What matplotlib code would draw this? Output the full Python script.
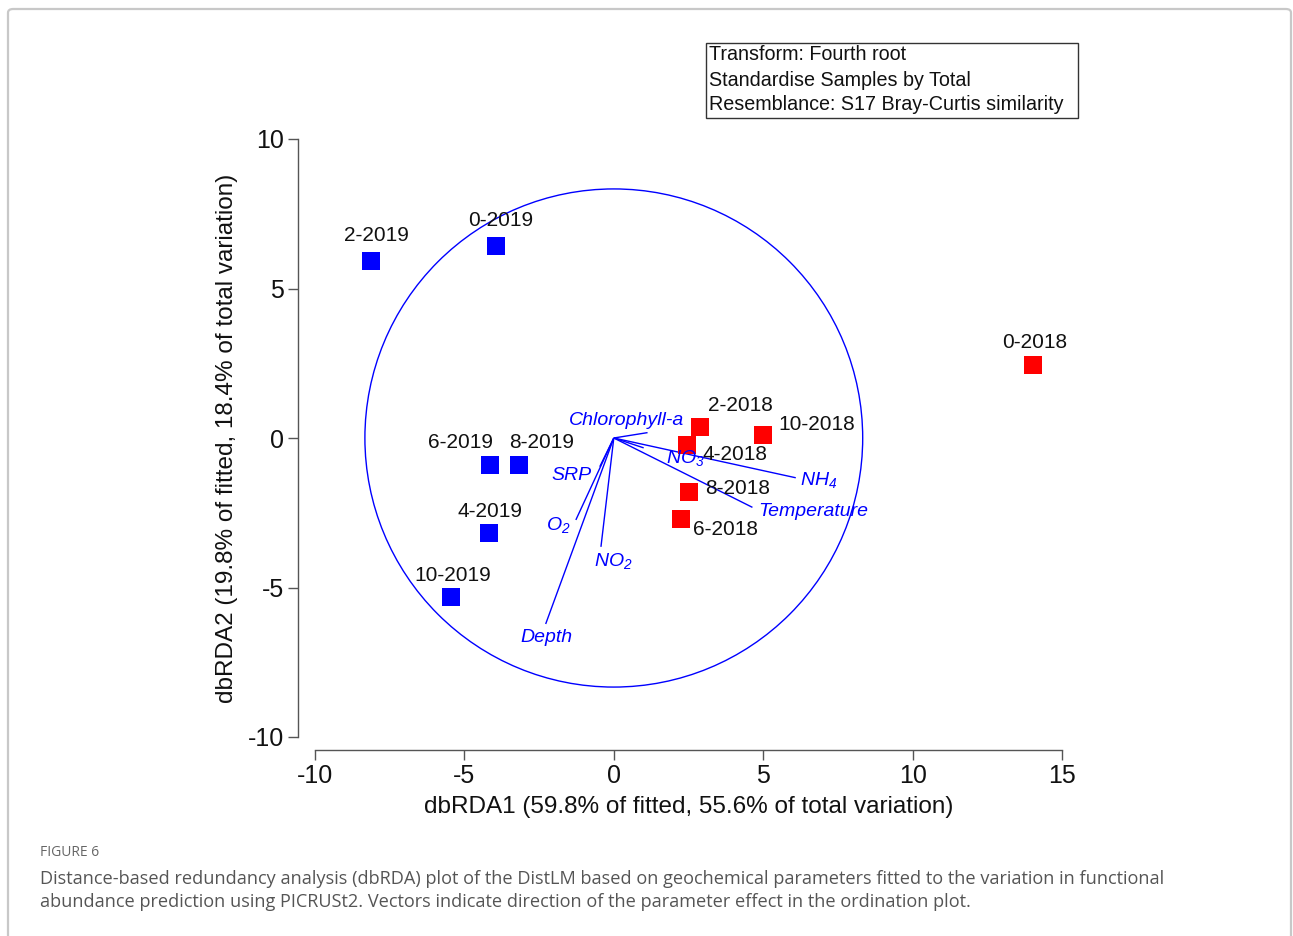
import matplotlib
matplotlib.use("Agg")
import matplotlib.pyplot as plt
from matplotlib.patches import Circle, Rectangle, FancyBboxPatch

plt.rcParams['font.family'] = ['Liberation Sans', 'DejaVu Sans']
plt.rcParams['mathtext.fontset'] = 'custom'
plt.rcParams['mathtext.rm'] = 'Liberation Sans:italic'
plt.rcParams['mathtext.it'] = 'Liberation Sans:italic'

# ---------------- data ----------------
samples_2019 = ['2-2019', '0-2019', '6-2019', '8-2019', '4-2019', '10-2019']
x_2019 = [-8.13, -3.95, -4.15, -3.18, -4.18, -5.46]
y_2019 = [5.92, 6.42, -0.90, -0.90, -3.18, -5.32]

samples_2018 = ['0-2018', '2-2018', '10-2018', '4-2018', '8-2018', '6-2018']
x_2018 = [14.02, 2.88, 4.99, 2.44, 2.51, 2.24]
y_2018 = [2.44, 0.37, 0.10, -0.23, -1.81, -2.71]

vector_names = ['Chlorophyll-a', 'NO$_3$', 'NH$_4$', 'Temperature', 'SRP', 'O$_2$', 'NO$_2$', 'Depth']
vector_x = [1.13, 1.00, 6.09, 4.64, -0.47, -1.27, -0.43, -2.28]
vector_y = [0.18, -0.33, -1.33, -2.32, -0.96, -2.74, -3.64, -6.22]

circle_radius = 8.33
x_ticks = [-10, -5, 0, 5, 10, 15]
y_ticks = [-10, -5, 0, 5, 10]
x_label = 'dbRDA1 (59.8% of fitted, 55.6% of total variation)'
y_label = 'dbRDA2 (19.8% of fitted, 18.4% of total variation)'
box_lines = ['Transform: Fourth root', 'Standardise Samples by Total',
             'Resemblance: S17 Bray-Curtis similarity']
caption_title = 'FIGURE 6'
caption_lines = ['Distance-based redundancy analysis (dbRDA) plot of the DistLM based on geochemical parameters fitted to the variation in functional',
                 'abundance prediction using PICRUSt2. Vectors indicate direction of the parameter effect in the ordination plot.']

# ---------------- layout ----------------
W, H = 1293, 936
fig = plt.figure(figsize=(W / 100, H / 100), dpi=100)

# outer frame
frame = FancyBboxPatch((8 / W, -0.05), (1291 - 8) / W, (H - 9) / H + 0.05,
                       boxstyle='round,pad=0,rounding_size=0.004',
                       transform=fig.transFigure, fill=False,
                       edgecolor='#c8c8c8', linewidth=1.6)
fig.patches.append(frame)

ax = fig.add_axes([315 / W, (H - 737) / H, (1062 - 315) / W, (737 - 139) / H])
ax.set_xlim(-10, 15)
ax.set_ylim(-10, 10)

ax.add_patch(Circle((0, 0), circle_radius, fill=False, edgecolor='#0000ff', linewidth=1.0))

for vx, vy in zip(vector_x, vector_y):
    ax.plot([0, vx], [0, vy], color='#0000ff', linewidth=1.0, solid_capstyle='butt')

vec_label_pos = {
    'Chlorophyll-a': (0.43, 0.60), 'NO$_3$': (2.41, -0.66), 'NH$_4$': (6.86, -1.42),
    'Temperature': (6.66, -2.47), 'SRP': (-1.41, -1.24), 'O$_2$': (-1.84, -2.90),
    'NO$_2$': (0.0, -4.10), 'Depth': (-2.24, -6.66),
}
for name in vector_names:
    px, py = vec_label_pos[name]
    ax.text(px, py, name, color='#0000ff', fontsize=14, fontstyle='italic',
            ha='center', va='center', clip_on=False)

ax.plot(x_2019, y_2019, linestyle='none', marker='s', markersize=12.5,
        color='#0000ff', markeredgewidth=0, clip_on=False)
ax.plot(x_2018, y_2018, linestyle='none', marker='s', markersize=12.5,
        color='#ff0000', markeredgewidth=0, clip_on=False)

label_offsets = {
    '2-2019': (6, 25), '0-2019': (5, 26), '0-2018': (2, 23), '2-2018': (41, 21),
    '10-2018': (54, 11), '4-2018': (48, -10), '8-2018': (49, 4), '6-2018': (45, -10),
    '6-2019': (-29, 22), '8-2019': (23, 22), '4-2019': (1, 22), '10-2019': (2, 22),
}
for names, xs, ys in [(samples_2019, x_2019, y_2019), (samples_2018, x_2018, y_2018)]:
    for n, xv, yv in zip(names, xs, ys):
        dx, dy = label_offsets[n]
        ax.annotate(n, (xv, yv), xytext=(dx * 0.72, dy * 0.72), textcoords='offset points',
                    ha='center', va='center', fontsize=15, color='#111111',
                    annotation_clip=False)

for side in ['top', 'right']:
    ax.spines[side].set_visible(False)
ax.spines['left'].set_position(('outward', 17 * 0.72))
ax.spines['bottom'].set_position(('outward', 13 * 0.72))
for side in ['left', 'bottom']:
    ax.spines[side].set_color('#555555')
    ax.spines[side].set_linewidth(1.0)
ax.spines['left'].set_bounds(-10, 10)
ax.spines['bottom'].set_bounds(-10, 15)
ax.set_xticks(x_ticks)
ax.set_yticks(y_ticks)
ax.set_xticklabels([str(t) for t in x_ticks])
ax.set_yticklabels([str(t) for t in y_ticks])
ax.tick_params(axis='both', direction='out', length=7, width=1.0, color='#555555',
               labelsize=18, labelcolor='#111111', pad=3)
ax.set_xlabel(x_label, fontsize=17.5, color='#111111', labelpad=6)
ax.set_ylabel(y_label, fontsize=17.5, color='#111111', labelpad=7)
ax.patch.set_alpha(0)

# info box
fig.patches.append(Rectangle((706 / W, 1 - 118 / H), (1078 - 706) / W, (118 - 43) / H,
                             transform=fig.transFigure, fill=False,
                             edgecolor='#333333', linewidth=1.0))
for i, line in enumerate(box_lines):
    fig.text(709 / W, 1 - (55 + 25 * i) / H, line, fontsize=14.2, color='#111111',
             ha='left', va='center')

# caption
fig.text(40 / W, 1 - 853 / H, caption_title, fontsize=10, color='#666666',
         family=['Open Sans', 'DejaVu Sans'], ha='left', va='center')
for i, line in enumerate(caption_lines):
    fig.text(40 / W, 1 - (879 + 23 * i) / H, line, fontsize=13.1, color='#555555',
             family=['Open Sans', 'DejaVu Sans'], ha='left', va='center')

fig.savefig('out.png', dpi=100, facecolor='white')
